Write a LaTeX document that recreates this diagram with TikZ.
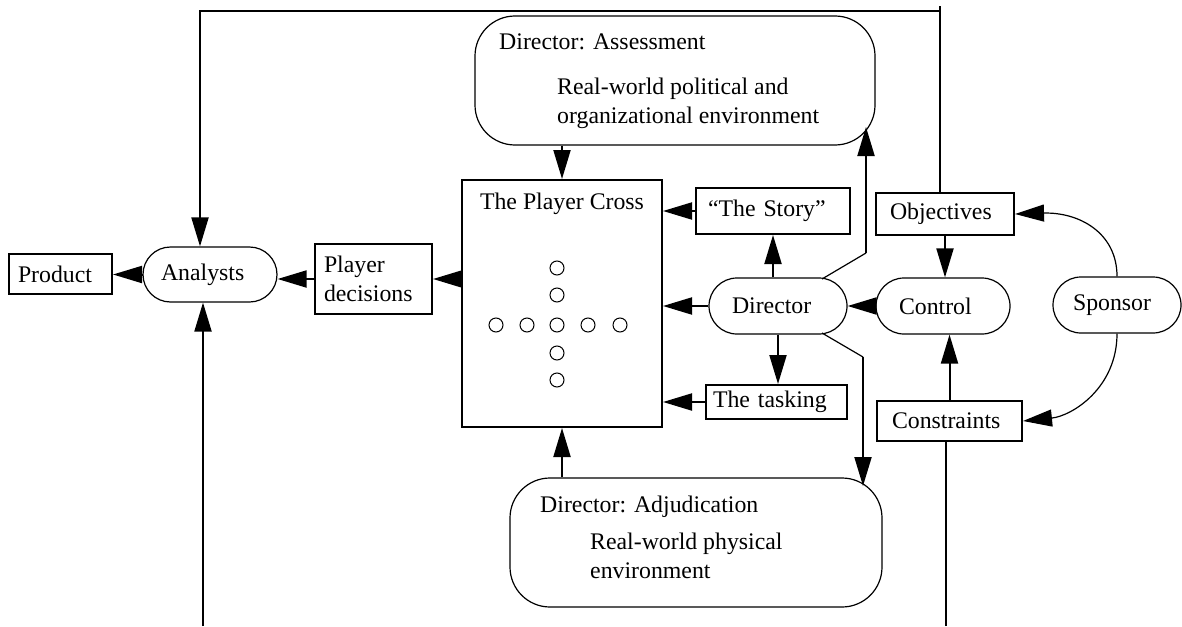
\documentclass[tikz,border=0pt]{standalone}
\usepackage{fontspec}
\setmainfont{Liberation Serif}
\usetikzlibrary{arrows.meta}
\begin{document}
\begin{tikzpicture}[x=1pt,y=-1pt,
  every node/.style={font=\fontsize{23.8}{28.5}\selectfont, inner sep=0pt},
  rbox/.style={draw, line width=2pt, align=left},
  obox/.style={draw, line width=1.2pt, align=left},
  arr/.style={line width=2pt, -{Triangle[length=29pt,width=17pt]}},
  thinln/.style={line width=1.2pt},
  tarr/.style={line width=1.2pt, -{Triangle[length=29pt,width=17pt]}},
  dot/.style={circle, draw, line width=1pt, minimum size=14pt}]
\useasboundingbox (0,0) rectangle (1182,626);

% boxes
\node[rbox, text width=85pt, inner xsep=9pt, minimum height=40pt] (product) at (60.5,274) {Product};
\node[obox, rounded corners=27.5pt, text width=98pt, inner xsep=18pt, minimum height=55pt] (analysts) at (210,274.5) {Analysts};
\node[rbox, text width=99pt, inner xsep=9pt, minimum height=70pt] (pd) at (373.5,279) {Player\\decisions};
\node[rbox, minimum width=200pt, minimum height=247pt] (pc) at (562,303.5) {};
\node[anchor=base] (pctitle) at (562,209) {The Player Cross};
\node[rbox, text width=130pt, inner xsep=12pt, minimum height=46pt] (story) at (773,211) {“The Story”};
\node[obox, rounded corners=28pt, text width=92pt, inner xsep=23pt, minimum height=56pt] (dir) at (778,306) {Director};
\node[rbox, text width=127pt, inner xsep=7pt, minimum height=34pt] (task) at (776.5,402) {The tasking};
\node[rbox, text width=110pt, inner xsep=14pt, minimum height=42pt] (obj) at (945,214) {Objectives};
\node[obox, rounded corners=28pt, text width=88pt, inner xsep=23pt, minimum height=56pt] (ctrl) at (943,306) {Control};
\node[obox, rounded corners=28pt, text width=88pt, inner xsep=20pt, minimum height=56pt] (spon) at (1117,305) {Sponsor};
\node[rbox, text width=115pt, inner xsep=15pt, minimum height=40pt] (cons) at (949.5,421) {Constraints};
\node[obox, rounded corners=40pt, minimum width=400pt, minimum height=129pt] (assess) at (675,80.5) {};
\node[obox, rounded corners=40pt, minimum width=372pt, minimum height=129pt] (adj) at (696,542.5) {};

% texts in big boxes
\node[anchor=base west] (at1) at (499,49) {Director: Assessment};
\node[anchor=north west, align=left] (at2) at (557,78) {Real-world political and\\organizational environment};
\node[anchor=base west] (ad1) at (540,512) {Director: Adjudication};
\node[anchor=north west, align=left] (ad2) at (590,533) {Real-world physical\\environment};

% player cross circles
\foreach \y/\n in {268/1,295/2,353/4,380/5} \node[dot] (cv\n) at (557,\y) {};
\foreach \x/\n in {496/1,527/2,557/3,588/4,620/5} \node[dot] (ch\n) at (\x,325) {};

% coordinates
\coordinate (tr) at (940,6);
\coordinate (tc) at (940,11);
\coordinate (tl) at (200,11);
\coordinate (bl) at (203,626);
\coordinate (br) at (946,626);
\coordinate (d1) at (822,279);
\coordinate (d2) at (866,253);
\coordinate (ta) at (866,127);
\coordinate (d3) at (822,333);
\coordinate (d4) at (863,357);
\coordinate (tb) at (863,486);

% connectors
\draw[arr] (analysts.west) -- (analysts.west -| product.east);
\draw[arr] (pd.west) -- (pd.west -| analysts.east);
\draw[arr] (pc.west |- pd.east) -- (pd.east);
\draw[arr] (story.west) -- (story.west -| pc.east);
\draw[arr] (dir.west) -- (dir.west -| pc.east);
\draw[arr] (task.west) -- (task.west -| pc.east);
\draw[arr] (story.south |- dir.north) -- (story.south);
\draw[arr] (dir.south) -- (dir.south |- task.north);
\draw[arr] (ctrl.west) -- (ctrl.west -| dir.east);
\draw[arr] (obj.south) -- (obj.south |- ctrl.north);
\draw[arr] (cons.north) -- (cons.north |- ctrl.south);
\draw[arr] (pc.north |- assess.south) -- (pc.north);
\draw[arr] (pc.south |- adj.north) -- (pc.south);
\draw[line width=2pt] (tc |- obj.north) -- (tr);
\draw[arr] (tc) -- (tl) -- (tl |- analysts.north);
\draw[arr] (bl) -- (bl |- analysts.south);
\draw[line width=2pt] (br) -- (br |- cons.south);
\draw[thinln] (d1) -- (d2);
\draw[arr] (d2) -- (ta);
\draw[thinln] (d3) -- (d4);
\draw[arr] (d4) -- (tb);
\draw[tarr] (spon.north) .. controls (1117,232) and (1078,212) .. (obj.east);
\draw[tarr] (spon.south) .. controls (1117,388) and (1072,416) .. (cons.east);
\end{tikzpicture}
\end{document}
